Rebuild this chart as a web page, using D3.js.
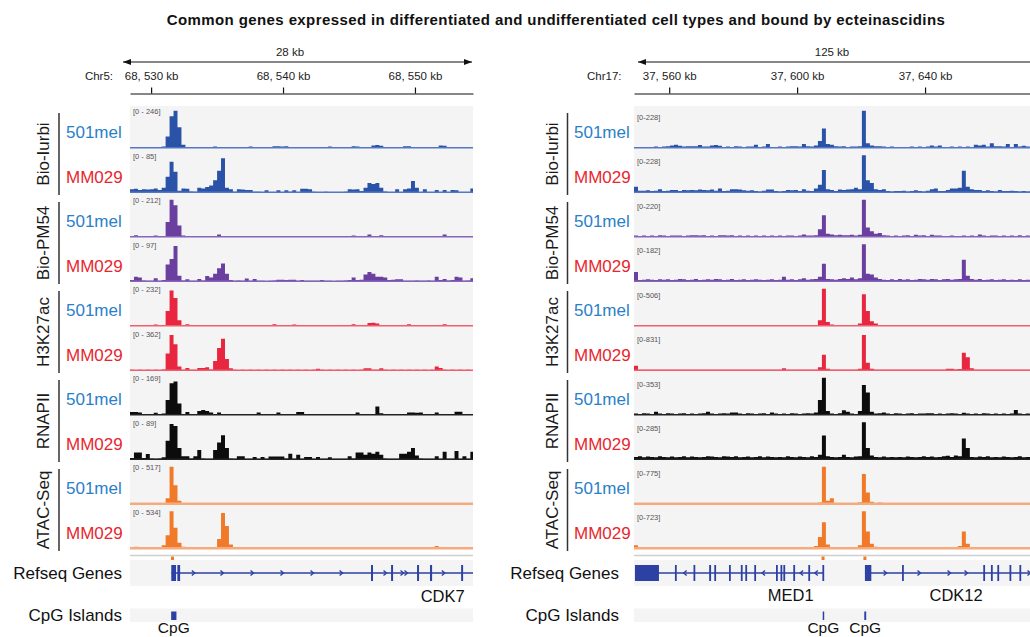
<!DOCTYPE html>
<html>
<head>
<meta charset="utf-8">
<script src="https://cdn.jsdelivr.net/npm/d3@7"></script>
<style>
  body { margin: 0; background: #fff; }
  svg { display: block; font-family: "Liberation Sans", Arial, Helvetica, sans-serif; }
</style>
</head>
<body>
<svg id="chart" width="1030" height="637"></svg>
<script>
// Genome-browser snapshot: two loci (CDK7 / MED1-CDK12), 5 assays x 2 cell lines.
// Signals are binned coverage, stored as % of each track's data range.

const title = "Common genes expressed in differentiated and undifferentiated cell types and bound by ecteinascidins";

const assays = ["Bio-Iurbi", "Bio-PM54", "H3K27ac", "RNAPII", "ATAC-Seq"];
const cellLines = ["501mel", "MM029"];

// ---- left locus: Chr5, CDK7 ----
const leftChrom = "Chr5:";
const leftSpanLabel = "28 kb";
const leftViewKb = [68528.4, 68554.4];
const leftBinKb = 0.3;
const leftTicksKb = [68530, 68540, 68550];
const leftRanges = [246, 85, 212, 97, 232, 362, 169, 89, 517, 534];

const leftIurbi501mel = [1,2,1,0,1,1,2,1,3,30, 85,100,55,8,2,1,0,2,2,1, 2,3,2,1,1,0,1,2,1,1, 3,1,1,0,1,2,4,4,3,4, 1,0,1,1,0,1,1,0,1,2, 3,1,0,1,1,2,4,3,1,1, 2,6,7,5,1,1,0,1,2,4, 4,2,1,0,1,1,1,2,6,5, 1,0,1,1,0,1,2];
const leftIurbiMM029 = [8,9,6,8,7,8,10,6,12,42, 82,55,4,10,9,2,1,12,10,14, 18,32,58,92,12,8,1,8,7,6, 6,1,1,0,5,0,0,5,0,5, 1,5,0,9,9,8,1,0,0,1, 0,0,0,0,1,8,7,8,3,12, 25,22,25,12,2,0,0,8,0,8, 10,30,12,0,8,0,0,6,0,6, 0,6,5,0,0,0,10];
const leftPM54501mel = [1,4,2,1,1,1,3,1,2,40, 100,85,30,3,2,1,0,1,1,0, 1,2,6,2,1,0,1,0,1,0, 1,1,0,1,0,1,1,0,1,1, 0,1,1,0,1,0,1,1,0,1, 1,0,1,1,0,1,3,1,1,1, 6,2,1,4,1,0,1,1,0,1, 1,0,1,1,0,1,1,1,2,6, 2,1,1,2,1,0,1];
const leftPM54MM029 = [3,12,10,2,1,1,8,1,3,45, 60,95,15,2,5,1,1,6,2,14, 10,20,35,48,20,3,1,2,1,7, 1,6,1,1,0,1,2,4,4,3, 4,4,1,3,1,1,1,1,3,1, 1,0,1,1,2,3,10,3,4,18, 25,20,12,12,10,3,4,5,5,1, 1,1,2,1,1,2,1,12,3,6, 2,3,12,10,1,2,8];
const leftK27ac501mel = [0,1,0,1,0,1,3,1,1,40, 95,75,15,2,4,1,1,2,1,0, 1,1,1,0,1,0,1,0,1,0, 1,0,1,0,1,1,4,1,0,1, 0,3,1,0,1,0,1,0,1,0, 1,0,1,0,1,1,4,1,1,1, 7,8,6,1,1,0,1,0,1,1, 4,1,0,1,0,1,0,1,1,4, 1,1,2,1,0,1,1];
const leftK27acMM029 = [1,0,1,0,1,0,1,0,2,45, 95,70,10,1,6,1,1,6,6,8, 2,25,60,85,30,5,1,0,1,0, 1,0,1,0,1,0,1,0,1,0, 1,0,1,0,1,0,1,4,1,0, 1,0,1,0,1,0,1,0,1,5, 5,1,1,5,1,0,1,0,1,0, 1,0,1,0,1,0,1,10,6,1, 0,1,0,1,0,1,0];
const leftPol2501mel = [7,7,6,2,1,1,5,2,3,40, 85,90,30,2,7,1,1,10,13,10, 6,2,6,1,1,1,1,1,1,1, 1,1,6,1,1,1,1,6,1,1, 1,2,7,7,1,1,1,1,1,1, 1,1,1,1,1,1,1,6,1,1, 1,1,22,4,1,1,1,1,1,1, 6,6,5,6,1,1,1,6,1,1, 1,1,8,8,1,1,1];
const leftPol2MM029 = [3,18,18,3,14,2,1,2,5,50, 95,90,30,8,8,2,8,25,2,1, 1,25,45,65,30,2,1,8,8,1, 1,6,1,6,1,7,7,7,7,2, 15,1,12,1,6,6,1,6,1,1, 5,1,1,1,1,8,2,18,18,12, 18,15,20,12,2,1,1,1,15,15, 20,30,10,2,1,1,1,8,1,20, 1,1,22,1,8,1,20];
const leftAtac501mel = [0,0,0,0,0,0,0,0,1,15, 100,50,8,1,0,0,0,0,0,0, 0,0,0,0,0,0,0,0,0,0, 0,0,0,0,0,0,0,0,0,0, 0,0,0,0,0,0,0,0,0,0, 0,0,0,0,0,0,0,0,0,0, 0,0,0,0,0,0,0,0,0,0, 0,0,0,0,0,0,0,0,0,0, 0,0,0,0,0,0,0];
const leftAtacMM029 = [0,4,0,0,0,0,0,3,8,35, 100,55,15,4,2,1,0,0,0,0, 0,1,25,95,60,10,1,0,0,0, 0,0,0,0,0,0,0,0,0,0, 0,0,0,0,0,0,0,0,0,0, 0,0,0,0,0,0,0,0,0,0, 0,0,0,0,0,0,0,0,0,0, 0,0,0,0,0,0,0,6,0,0, 0,0,0,0,0,0,0];

const cdk7Span = [68531.53, 68554.4];
const cdk7Exons = [[68531.53, 68531.89], [68531.99, 68532.2], [68546.67, 68546.82], [68548.19, 68548.34], [68550.16, 68550.31], [68551.14, 68551.3], [68553.5, 68553.65]];
const cdk7Chevrons = [68533.2, 68535.37, 68537.65, 68539.92, 68542.2, 68544.4, 68547.73, 68549.02, 68549.32, 68552.15];
const leftPeakCalls = [68531.62];
const leftCpG = [[68531.52, 68531.92]];

// ---- right locus: Chr17, MED1 / CDK12 ----
const rightChrom = "Chr17:";
const rightSpanLabel = "125 kb";
const rightViewKb = [37549, 37675];
const rightBinKb = 1.25;
const rightTicksKb = [37560, 37600, 37640];
const rightRanges = [228, 228, 220, 182, 506, 831, 353, 285, 775, 723];

const rightIurbi501mel = [2,2,1,2,2,3,2,3,4,6, 8,5,3,4,4,4,7,3,3,6, 7,5,2,3,2,4,3,2,3,3, 8,2,3,10,2,2,3,2,3,4, 4,3,10,4,3,6,18,52,10,8, 4,3,4,2,3,3,4,100,12,6, 4,4,3,2,3,2,2,2,2,3, 2,3,2,3,6,3,6,2,2,3, 2,3,2,3,2,8,6,8,3,12, 4,4,3,10,2,10,3,5,3,2, 2];
const rightIurbiMM029 = [15,4,4,5,3,4,8,3,4,6, 6,3,6,5,6,5,7,6,5,7, 4,10,3,4,8,8,7,5,4,5, 3,2,4,7,7,3,2,3,6,5, 6,3,8,4,3,10,20,60,8,6, 3,7,6,7,8,12,8,100,32,25, 8,6,8,3,2,3,3,4,2,3, 5,3,2,4,8,10,3,3,6,10, 10,12,58,15,8,6,6,3,5,3, 2,6,3,3,4,3,2,3,2,3, 2];
const rightPM54501mel = [3,2,3,2,3,2,4,3,2,3, 3,3,2,3,4,4,3,4,2,3, 2,4,4,3,4,2,3,2,3,2, 3,2,3,2,3,2,3,2,3,3, 2,3,6,3,3,4,20,58,8,6, 4,5,4,4,5,3,5,100,25,15, 8,10,4,3,2,3,2,3,4,2, 5,3,4,2,5,3,3,2,2,3, 2,2,3,2,3,2,6,3,2,3, 3,2,3,2,3,2,4,2,3,2, 3];
const rightPM54MM029 = [25,3,4,5,4,3,5,4,5,3, 4,6,5,3,4,6,3,4,5,4, 6,5,3,4,6,3,4,5,3,4, 5,4,3,4,5,3,4,12,4,5, 3,5,8,4,5,6,12,47,6,5, 4,6,8,6,10,5,8,100,20,18, 10,6,4,3,5,3,6,4,5,3, 4,6,5,4,6,5,3,5,6,4, 5,6,58,15,6,4,6,3,4,5, 3,4,5,3,4,3,5,3,4,3, 4];
const rightK27ac501mel = [2,1,2,1,2,1,2,1,2,1, 2,1,2,1,2,1,2,1,2,1, 2,1,2,1,2,1,2,1,2,1, 2,1,2,1,2,1,2,1,2,1, 2,1,2,1,2,2,15,100,10,3, 2,1,2,1,2,2,6,85,40,12, 6,2,1,2,1,2,1,2,1,2, 1,2,1,2,1,2,1,2,1,2, 1,2,1,2,1,2,1,2,1,2, 1,2,1,2,1,2,1,2,1,2, 1];
const rightK27acMM029 = [12,1,1,1,1,1,1,1,1,1, 1,1,1,1,1,1,1,1,1,1, 1,1,1,1,1,1,1,1,1,1, 1,1,1,1,1,1,1,5,1,1, 1,1,1,1,1,1,8,42,4,1, 1,1,1,1,1,1,4,95,20,4, 1,1,1,1,1,1,1,1,1,1, 1,1,1,1,1,1,1,1,4,4, 2,3,47,35,5,1,1,1,1,1, 1,1,1,1,1,1,1,1,1,1, 1];
const rightPol2501mel = [3,2,4,3,2,8,3,2,4,3, 2,3,4,2,3,2,3,4,8,3, 2,3,4,3,6,6,3,2,4,3, 2,3,4,2,6,3,2,3,2,4, 3,2,3,4,3,6,40,100,10,3, 2,4,12,8,3,2,10,80,60,8, 3,4,6,3,2,4,3,2,3,4, 2,3,3,4,4,2,3,2,3,4, 3,2,5,3,2,3,2,4,3,2, 3,2,3,2,3,13,3,2,3,2, 3];
const rightPol2MM029 = [6,8,5,7,6,5,8,6,5,7, 5,6,8,5,7,6,5,6,8,7, 6,5,8,7,6,8,5,6,7,5, 6,8,5,7,6,5,6,5,8,6, 5,7,6,5,8,6,12,64,8,6, 5,6,12,6,5,7,8,100,30,10, 6,5,7,5,6,5,6,5,7,6, 5,6,8,6,7,5,6,8,9,6, 10,8,56,30,6,5,7,6,8,5, 6,5,7,6,5,6,8,5,6,5, 6];
const rightAtac501mel = [0,0,0,0,0,0,0,0,0,0, 0,0,0,0,0,0,0,0,0,0, 0,0,0,0,0,0,0,0,0,0, 0,0,0,0,0,0,0,0,0,0, 0,0,0,0,0,1,3,100,8,15, 2,0,0,0,0,1,4,80,30,5, 2,3,0,0,0,0,0,0,0,0, 0,0,0,0,0,0,0,0,0,0, 0,0,0,0,0,0,0,0,0,0, 0,0,0,0,0,0,0,0,0,0, 0];
const rightAtacMM029 = [8,1,0,0,0,0,0,0,0,0, 0,0,0,0,0,0,0,0,0,0, 0,0,0,0,0,0,0,0,0,0, 0,0,0,0,0,0,0,0,0,0, 0,0,0,0,1,6,30,70,10,3, 1,0,0,0,0,1,8,100,45,12, 4,1,0,0,0,0,0,0,0,0, 0,0,0,0,0,0,3,0,0,0, 0,6,45,12,2,0,0,0,0,0, 0,0,0,0,0,0,0,0,0,0, 0];

const med1Span = [37549.3, 37608.3];
const med1Exons = [[37549.3, 37556.8], [37561.8, 37562.3], [37567.6, 37568.1], [37572.5, 37573.1], [37574.1, 37574.6], [37578.7, 37579.2], [37582.4, 37582.9], [37583.8, 37584.3], [37586.6, 37587.1], [37593.4, 37593.9], [37594.8, 37595.3], [37595.7, 37596.2], [37598.8, 37599.3], [37603.5, 37604.0], [37607.9, 37608.4]];
const med1Chevrons = [37565.0, 37589.5, 37601.4, 37606.0];
const cdk12Span = [37621.2, 37675];
const cdk12Exons = [[37621.2, 37623.2], [37632.8, 37633.3], [37658.2, 37658.7], [37660.6, 37661.1], [37662.6, 37663.1], [37666.4, 37666.9], [37669.5, 37670.0]];
const cdk12Chevrons = [37627.5, 37638.1, 37647.5, 37652.8, 37672.5];
const rightPeakCalls = [37608.1, 37621.2];
const rightCpG = [[37608.0, 37608.4], [37621.0, 37621.6]];

// ---- styles ----
const fillColors = ["#2a53a8", "#6a3f9f", "#e8263f", "#0c0c0c", "#f07a2a"];
const baseColors = ["#5476c4", "#8665bb", "#ef5f70", "#222222", "#f6ab7e"];
const cellColors = { "501mel": "#2a80c8", "MM029": "#e8262e" };
const geneColor = "#2c41a3";
const trackBg = "#f4f4f5";

const svg = d3.select("#chart");

svg.append("text")
  .attr("x", 556)
  .attr("y", 25)
  .attr("text-anchor", "middle")
  .attr("font-size", 15)
  .attr("letter-spacing", "0.4px")
  .attr("font-weight", "bold")
  .attr("fill", "#111")
  .text(title);

const trackTop = 108, trackPitch = 44.5, trackHeight = 39.7;
const geneY = 573;

const panels = [
  {
    id: "left", view: leftViewKb, range: [130, 473], bin: leftBinKb, ticks: leftTicksKb,
    chrom: leftChrom, chromRight: 113, span: leftSpanLabel, spanX: 290, arrow: [123, 472],
    ranges: leftRanges, rangeFmt: r => `[0 - ${r}]`, rangeDy: 6,
    signals: [leftIurbi501mel, leftIurbiMM029, leftPM54501mel, leftPM54MM029, leftK27ac501mel,
              leftK27acMM029, leftPol2501mel, leftPol2MM029, leftAtac501mel, leftAtacMM029],
    genes: [{ name: "CDK7", span: cdk7Span, exons: cdk7Exons, chevrons: cdk7Chevrons, strand: 1, labelKb: 68552.1, labelY: 601.5 }],
    peaks: leftPeakCalls, cpg: leftCpG,
    groupX: 49, lineX: 59, cellX: 66, nameRight: 122
  },
  {
    id: "right", view: rightViewKb, range: [634, 1037], bin: rightBinKb, ticks: rightTicksKb,
    chrom: rightChrom, chromRight: 621.5, span: rightSpanLabel, spanX: 832, arrow: [638, 1045],
    ranges: rightRanges, rangeFmt: r => `[0-${r}]`, rangeDy: 11.5,
    signals: [rightIurbi501mel, rightIurbiMM029, rightPM54501mel, rightPM54MM029, rightK27ac501mel,
              rightK27acMM029, rightPol2501mel, rightPol2MM029, rightAtac501mel, rightAtacMM029],
    genes: [
      { name: "MED1", span: med1Span, exons: med1Exons, chevrons: med1Chevrons, strand: -1, labelKb: 37598.0, labelY: 600.5 },
      { name: "CDK12", span: cdk12Span, exons: cdk12Exons, chevrons: cdk12Chevrons, strand: 1, labelKb: 37649.7, labelY: 600.5 }
    ],
    peaks: rightPeakCalls, cpg: rightCpG,
    groupX: 557.5, lineX: 567.5, cellX: 574, nameRight: 619
  }
];

panels.forEach(p => {
  const x = d3.scaleLinear().domain(p.view).range(p.range);
  const g = svg.append("g").attr("class", `panel-${p.id}`);
  const clipId = `clip-${p.id}`;
  svg.append("clipPath").attr("id", clipId)
    .append("rect")
    .attr("x", p.range[0]).attr("y", 0)
    .attr("width", p.range[1] - p.range[0]).attr("height", 637);

  // scale bar with arrowheads
  const [a0, a1] = p.arrow;
  g.append("line")
    .attr("x1", a0).attr("x2", a1).attr("y1", 62).attr("y2", 62)
    .attr("stroke", "#111").attr("stroke-width", 1.2);
  g.append("path").attr("d", `M${a0},62L${a0 + 8},59L${a0 + 8},65Z`).attr("fill", "#111");
  g.append("path").attr("d", `M${a1},62L${a1 - 8},59L${a1 - 8},65Z`).attr("fill", "#111");
  g.append("text")
    .attr("x", p.spanX).attr("y", 56)
    .attr("text-anchor", "middle")
    .attr("font-size", 11.5).attr("fill", "#222")
    .text(p.span);

  // coordinate ruler
  g.append("g")
    .attr("transform", "translate(0,93.5)")
    .call(
      d3.axisTop(x)
        .tickValues(p.ticks)
        .tickSize(6)
        .tickSizeOuter(0)
        .tickPadding(7.5)
        .tickFormat(d => d3.format(",")(d).replace(",", ", ") + " kb")
    )
    .call(axis => {
      axis.attr("font-family", null).attr("font-size", null);
      axis.selectAll("text").attr("fill", "#222").attr("font-size", 11.5);
      axis.selectAll(".domain, .tick line").attr("stroke", "#111").attr("stroke-width", 1.2);
    });
  g.append("text")
    .attr("x", p.chromRight).attr("y", 80)
    .attr("text-anchor", "end")
    .attr("font-size", 11.5).attr("fill", "#222")
    .text(p.chrom);

  // track backgrounds
  const tracks = g.append("g").attr("clip-path", `url(#${clipId})`);
  tracks.append("rect")
    .attr("x", p.range[0]).attr("y", trackTop - 2)
    .attr("width", p.range[1] - p.range[0])
    .attr("height", trackPitch * 9 + trackHeight + 3)
    .attr("fill", trackBg);

  p.signals.forEach((vals, i) => {
    const top = trackTop + i * trackPitch;
    const base = top + trackHeight;
    const assay = Math.floor(i / 2);
    const y = d3.scaleLinear().domain([0, 100]).range([base, base - 37]);
    const pts = vals.map((v, j) => [p.view[0] + j * p.bin, v]);
    pts.push([p.view[0] + vals.length * p.bin, vals[vals.length - 1]]);

    const area = d3.area()
      .x(d => x(d[0]))
      .y0(base)
      .y1(d => y(d[1]))
      .curve(d3.curveStepAfter);

    tracks.append("path")
      .attr("d", area(pts))
      .attr("fill", fillColors[assay]);

    tracks.append("line")
      .attr("x1", p.range[0]).attr("x2", p.range[1])
      .attr("y1", base).attr("y2", base)
      .attr("stroke", baseColors[assay])
      .attr("stroke-width", assay === 4 ? 2.4 : 1.6);

    tracks.append("text")
      .attr("x", p.range[0] + 3)
      .attr("y", top + p.rangeDy)
      .attr("font-size", 7.5)
      .attr("fill", "#555")
      .text(p.rangeFmt(p.ranges[i]));

    g.append("text")
      .attr("x", p.cellX)
      .attr("y", base - 9.5)
      .attr("font-size", 17)
      .attr("fill", cellColors[cellLines[i % 2]])
      .text(cellLines[i % 2]);
  });

  // assay group labels with bracket lines
  assays.forEach((a, k) => {
    const top = trackTop + 2 * k * trackPitch;
    g.append("line")
      .attr("x1", p.lineX).attr("x2", p.lineX)
      .attr("y1", top + 5).attr("y2", top + 87)
      .attr("stroke", "#333").attr("stroke-width", 1.5);
    g.append("text")
      .attr("transform", `translate(${p.groupX},${top + 46}) rotate(-90)`)
      .attr("text-anchor", "middle")
      .attr("font-size", 17)
      .attr("fill", "#1a1a1a")
      .text(a);
  });

  // peak-call strip above genes
  tracks.append("line")
    .attr("x1", p.range[0]).attr("x2", p.range[1])
    .attr("y1", 555.5).attr("y2", 555.5)
    .attr("stroke", "#cfcfd2").attr("stroke-width", 1.5);
  tracks.selectAll(".peak-call")
    .data(p.peaks)
    .join("rect")
    .attr("class", "peak-call")
    .attr("x", d => x(d) - 1.5).attr("y", 556.5)
    .attr("width", 3).attr("height", 4)
    .attr("fill", "#f07a2a");

  // Refseq gene track
  tracks.append("rect")
    .attr("x", p.range[0]).attr("y", 560)
    .attr("width", p.range[1] - p.range[0]).attr("height", 26)
    .attr("fill", trackBg);

  p.genes.forEach(gene => {
    tracks.append("line")
      .attr("x1", x(gene.span[0])).attr("x2", x(gene.span[1]))
      .attr("y1", geneY).attr("y2", geneY)
      .attr("stroke", geneColor).attr("stroke-width", 1.5);
    tracks.selectAll(null)
      .data(gene.exons)
      .join("rect")
      .attr("x", d => x(d[0]))
      .attr("y", geneY - 8)
      .attr("width", d => Math.max(1.8, x(d[1]) - x(d[0])))
      .attr("height", 16)
      .attr("fill", geneColor);
    tracks.selectAll(null)
      .data(gene.chevrons)
      .join("path")
      .attr("d", d => {
        const cx = x(d), s = gene.strand;
        return `M${cx - 1.5 * s},${geneY - 2.5}L${cx + 1.5 * s},${geneY}L${cx - 1.5 * s},${geneY + 2.5}`;
      })
      .attr("fill", "none")
      .attr("stroke", geneColor)
      .attr("stroke-width", 1.4);
    g.append("text")
      .attr("x", x(gene.labelKb)).attr("y", gene.labelY)
      .attr("text-anchor", "middle")
      .attr("font-size", 16.5).attr("fill", "#111")
      .text(gene.name);
  });

  g.append("text")
    .attr("x", p.nameRight).attr("y", 578.5)
    .attr("text-anchor", "end")
    .attr("font-size", 17).attr("fill", "#111")
    .text("Refseq Genes");

  // CpG islands
  tracks.append("rect")
    .attr("x", p.range[0]).attr("y", 608.5)
    .attr("width", p.range[1] - p.range[0]).attr("height", 13.5)
    .attr("fill", trackBg);
  tracks.selectAll(".cpg")
    .data(p.cpg)
    .join("rect")
    .attr("class", "cpg")
    .attr("x", d => x(d[0]))
    .attr("y", 611.5)
    .attr("width", d => Math.max(1.5, x(d[1]) - x(d[0])))
    .attr("height", 8.5)
    .attr("fill", geneColor);
  g.selectAll(".cpg-label")
    .data(p.cpg)
    .join("text")
    .attr("class", "cpg-label")
    .attr("x", d => x((d[0] + d[1]) / 2))
    .attr("y", 633)
    .attr("text-anchor", "middle")
    .attr("font-size", 15.5).attr("fill", "#111")
    .text("CpG");

  g.append("text")
    .attr("x", p.nameRight).attr("y", 620.5)
    .attr("text-anchor", "end")
    .attr("font-size", 17).attr("fill", "#111")
    .text("CpG Islands");
});
</script>
</body>
</html>
